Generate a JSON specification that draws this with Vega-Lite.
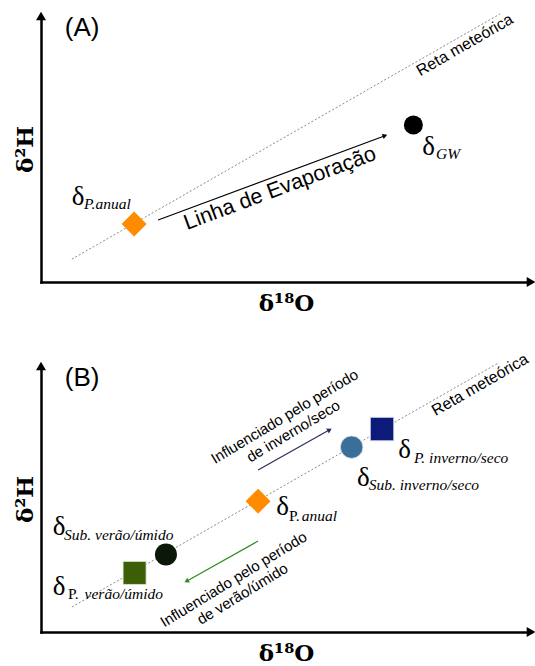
{
  "$schema": "https://vega.github.io/schema/vega-lite/v6.json",
  "background": "white",
  "padding": {"left": 14, "top": 10, "right": 0, "bottom": 0},
  "bounds": "flush",
  "spacing": 84,
  "config": {
    "view": {"stroke": null},
    "axis": {"domainColor": "black", "domainWidth": 2.5, "domainCap": "square", "ticks": false, "labels": false, "grid": false, "titleFont": "DejaVu Serif", "titleFontWeight": "bold", "titleFontSize": 23, "titleColor": "black"},
    "axisX": {"titlePadding": 10},
    "axisY": {"titlePadding": 4},
    "text": {"color": "black"}
  },
  "vconcat": [
    {
      "width": 490,
      "height": 266,
      "encoding": {
        "x": {"field": "x", "type": "quantitative", "scale": {"domain": [0, 100], "nice": false, "zero": false}, "title": "δ¹⁸O"},
        "y": {"field": "y", "type": "quantitative", "scale": {"domain": [0, 100], "nice": false, "zero": false}, "title": "δ²H"}
      },
      "layer": [
        {"data": {"values": [{"x": 6.3, "y": 8.6, "x2": 93.7, "y2": 100.8}]}, "mark": {"type": "rule", "color": "#8a8a8a", "strokeWidth": 1, "strokeDash": [2, 2]}, "encoding": {"x2": {"field": "x2"}, "y2": {"field": "y2"}}},
        {"data": {"values": [{"x": 23.9, "y": 23.3, "x2": 70.2, "y2": 55.0}]}, "mark": {"type": "rule", "color": "black", "strokeWidth": 1.2}, "encoding": {"x2": {"field": "x2"}, "y2": {"field": "y2"}}},
        {"data": {"values": [{"x": 70.2, "y": 55.0}]}, "mark": {"type": "point", "shape": "triangle-right", "filled": true, "color": "black", "size": 30, "angle": 339.6, "opacity": 1}},
        {"data": {"values": [{"x": 100, "y": 0}]}, "mark": {"type": "point", "shape": "triangle-right", "filled": true, "color": "black", "size": 100, "opacity": 1}},
        {"data": {"values": [{"x": 0, "y": 100}]}, "mark": {"type": "point", "shape": "triangle-up", "filled": true, "color": "black", "size": 100, "opacity": 1}},
        {"data": {"values": [{"amostra": "P.anual", "x": 19.0, "y": 21.8}]}, "mark": {"type": "point", "shape": "diamond", "filled": true, "opacity": 1, "color": "#ff8c00", "size": 625}},
        {"data": {"values": [{"amostra": "GW", "x": 76.0, "y": 59.0}]}, "mark": {"type": "point", "shape": "circle", "filled": true, "opacity": 1, "color": "#000000", "size": 361}},
        {"data": {"values": [{"x": 6.3, "y": 28.9, "t": "δ"}, {"x": 77.8, "y": 47.7, "t": "δ"}]}, "mark": {"type": "text", "align": "left", "baseline": "alphabetic", "font": "Liberation Serif", "fontSize": 27}, "encoding": {"text": {"field": "t", "type": "nominal"}}},
        {"data": {"values": [{"x": 8.8, "y": 27.4, "t": "P.anual"}, {"x": 80.6, "y": 46.2, "t": "GW"}]}, "mark": {"type": "text", "align": "left", "baseline": "alphabetic", "font": "Liberation Serif", "fontStyle": "italic", "fontSize": 15.5}, "encoding": {"text": {"field": "t", "type": "nominal"}}},
        {"data": {"values": [{"x": 48.8, "y": 35.0, "t": "Linha de Evaporação"}]}, "mark": {"type": "text", "align": "center", "baseline": "middle", "font": "Liberation Sans", "fontSize": 21.5, "angle": 339.6}, "encoding": {"text": {"field": "t", "type": "nominal"}}},
        {"data": {"values": [{"x": 86.5, "y": 89.1, "t": "Reta meteórica"}]}, "mark": {"type": "text", "align": "center", "baseline": "middle", "font": "Liberation Sans", "fontSize": 16, "angle": 330}, "encoding": {"text": {"field": "t", "type": "nominal"}}},
        {"data": {"values": [{"x": 8.4, "y": 95.5, "t": "(A)"}]}, "mark": {"type": "text", "align": "center", "baseline": "middle", "font": "Liberation Sans", "fontSize": 26}, "encoding": {"text": {"field": "t", "type": "nominal"}}}
      ]
    },
    {
      "width": 490,
      "height": 266,
      "encoding": {
        "x": {"field": "x", "type": "quantitative", "scale": {"domain": [0, 100], "nice": false, "zero": false}, "title": "δ¹⁸O"},
        "y": {"field": "y", "type": "quantitative", "scale": {"domain": [0, 100], "nice": false, "zero": false}, "title": "δ²H"}
      },
      "layer": [
        {"data": {"values": [{"x": 6.3, "y": 9.4, "x2": 93.3, "y2": 101.1}]}, "mark": {"type": "rule", "color": "#8a8a8a", "strokeWidth": 1, "strokeDash": [2, 2]}, "encoding": {"x2": {"field": "x2"}, "y2": {"field": "y2"}}},
        {"data": {"values": [{"x": 44.3, "y": 60.9, "x2": 58.9, "y2": 76.0}]}, "mark": {"type": "rule", "color": "#2b2b5e", "strokeWidth": 1.2}, "encoding": {"x2": {"field": "x2"}, "y2": {"field": "y2"}}},
        {"data": {"values": [{"x": 58.9, "y": 76.0}]}, "mark": {"type": "point", "shape": "triangle-right", "filled": true, "color": "#2b2b5e", "size": 30, "angle": 330.7, "opacity": 1}},
        {"data": {"values": [{"x": 44.3, "y": 34.2, "x2": 29.7, "y2": 19.1}]}, "mark": {"type": "rule", "color": "#2e8b22", "strokeWidth": 1.2}, "encoding": {"x2": {"field": "x2"}, "y2": {"field": "y2"}}},
        {"data": {"values": [{"x": 29.7, "y": 19.1}]}, "mark": {"type": "point", "shape": "triangle-right", "filled": true, "color": "#2e8b22", "size": 30, "angle": 150.7, "opacity": 1}},
        {"data": {"values": [{"x": 100, "y": 0}]}, "mark": {"type": "point", "shape": "triangle-right", "filled": true, "color": "black", "size": 100, "opacity": 1}},
        {"data": {"values": [{"x": 0, "y": 100}]}, "mark": {"type": "point", "shape": "triangle-up", "filled": true, "color": "black", "size": 100, "opacity": 1}},
        {"data": {"values": [{"amostra": "P. verão/úmido", "x": 19.1, "y": 22.2}]}, "mark": {"type": "point", "shape": "square", "filled": true, "opacity": 1, "color": "#3b5e06", "stroke": "#dfe6d5", "strokeWidth": 0.8, "size": 529}},
        {"data": {"values": [{"amostra": "Sub. verão/úmido", "x": 25.5, "y": 29.1}]}, "mark": {"type": "point", "shape": "circle", "filled": true, "opacity": 1, "color": "#0b1707", "size": 484}},
        {"data": {"values": [{"amostra": "P.anual", "x": 44.3, "y": 49.2}]}, "mark": {"type": "point", "shape": "diamond", "filled": true, "opacity": 1, "color": "#ff8c00", "size": 625}},
        {"data": {"values": [{"amostra": "Sub. inverno/seco", "x": 63.4, "y": 69.5}]}, "mark": {"type": "point", "shape": "circle", "filled": true, "opacity": 1, "color": "#3a6f99", "stroke": "#dce6ee", "strokeWidth": 0.8, "size": 506}},
        {"data": {"values": [{"amostra": "P. inverno/seco", "x": 69.6, "y": 76.3}]}, "mark": {"type": "point", "shape": "square", "filled": true, "opacity": 1, "color": "#0c1a7a", "stroke": "#d8dbea", "strokeWidth": 0.8, "size": 545}},
        {"data": {"values": [
          {"x": 72.9, "y": 65.4, "t": "δ"},
          {"x": 64.5, "y": 54.9, "t": "δ"},
          {"x": 48.0, "y": 44.0, "t": "δ"},
          {"x": 2.4, "y": 36.5, "t": "δ"},
          {"x": 2.4, "y": 13.9, "t": "δ"}
        ]}, "mark": {"type": "text", "align": "left", "baseline": "alphabetic", "font": "Liberation Serif", "fontSize": 27}, "encoding": {"text": {"field": "t", "type": "nominal"}}},
        {"data": {"values": [
          {"x": 76.1, "y": 63.5, "t": "P. inverno/seco"},
          {"x": 66.9, "y": 53.4, "t": "Sub. inverno/seco"},
          {"x": 53.2, "y": 41.7, "t": "anual"},
          {"x": 4.7, "y": 34.6, "t": "Sub. verão/úmido"},
          {"x": 8.9, "y": 12.4, "t": "verão/úmido"}
        ]}, "mark": {"type": "text", "align": "left", "baseline": "alphabetic", "font": "Liberation Serif", "fontStyle": "italic", "fontSize": 15.5}, "encoding": {"text": {"field": "t", "type": "nominal"}}},
        {"data": {"values": [
          {"x": 50.6, "y": 41.7, "t": "P."},
          {"x": 5.5, "y": 12.4, "t": "P."}
        ]}, "mark": {"type": "text", "align": "left", "baseline": "alphabetic", "font": "Liberation Serif", "fontSize": 15.5}, "encoding": {"text": {"field": "t", "type": "nominal"}}},
        {"data": {"values": [{"x": 49.7, "y": 81.0, "t": "Influenciado pelo período\nde inverno/seco"}]}, "mark": {"type": "text", "align": "center", "baseline": "middle", "font": "Liberation Sans", "fontSize": 15, "lineHeight": 17, "lineBreak": "\n", "angle": 329}, "encoding": {"text": {"field": "t", "type": "nominal"}}},
        {"data": {"values": [{"x": 39.3, "y": 19.8, "t": "Influenciado pelo período\nde verão/úmido"}]}, "mark": {"type": "text", "align": "center", "baseline": "middle", "font": "Liberation Sans", "fontSize": 15, "lineHeight": 17, "lineBreak": "\n", "angle": 328.5}, "encoding": {"text": {"field": "t", "type": "nominal"}}},
        {"data": {"values": [{"x": 89.6, "y": 92.9, "t": "Reta meteórica"}]}, "mark": {"type": "text", "align": "center", "baseline": "middle", "font": "Liberation Sans", "fontSize": 16, "angle": 330}, "encoding": {"text": {"field": "t", "type": "nominal"}}},
        {"data": {"values": [{"x": 8.4, "y": 95.5, "t": "(B)"}]}, "mark": {"type": "text", "align": "center", "baseline": "middle", "font": "Liberation Sans", "fontSize": 26}, "encoding": {"text": {"field": "t", "type": "nominal"}}}
      ]
    }
  ]
}
